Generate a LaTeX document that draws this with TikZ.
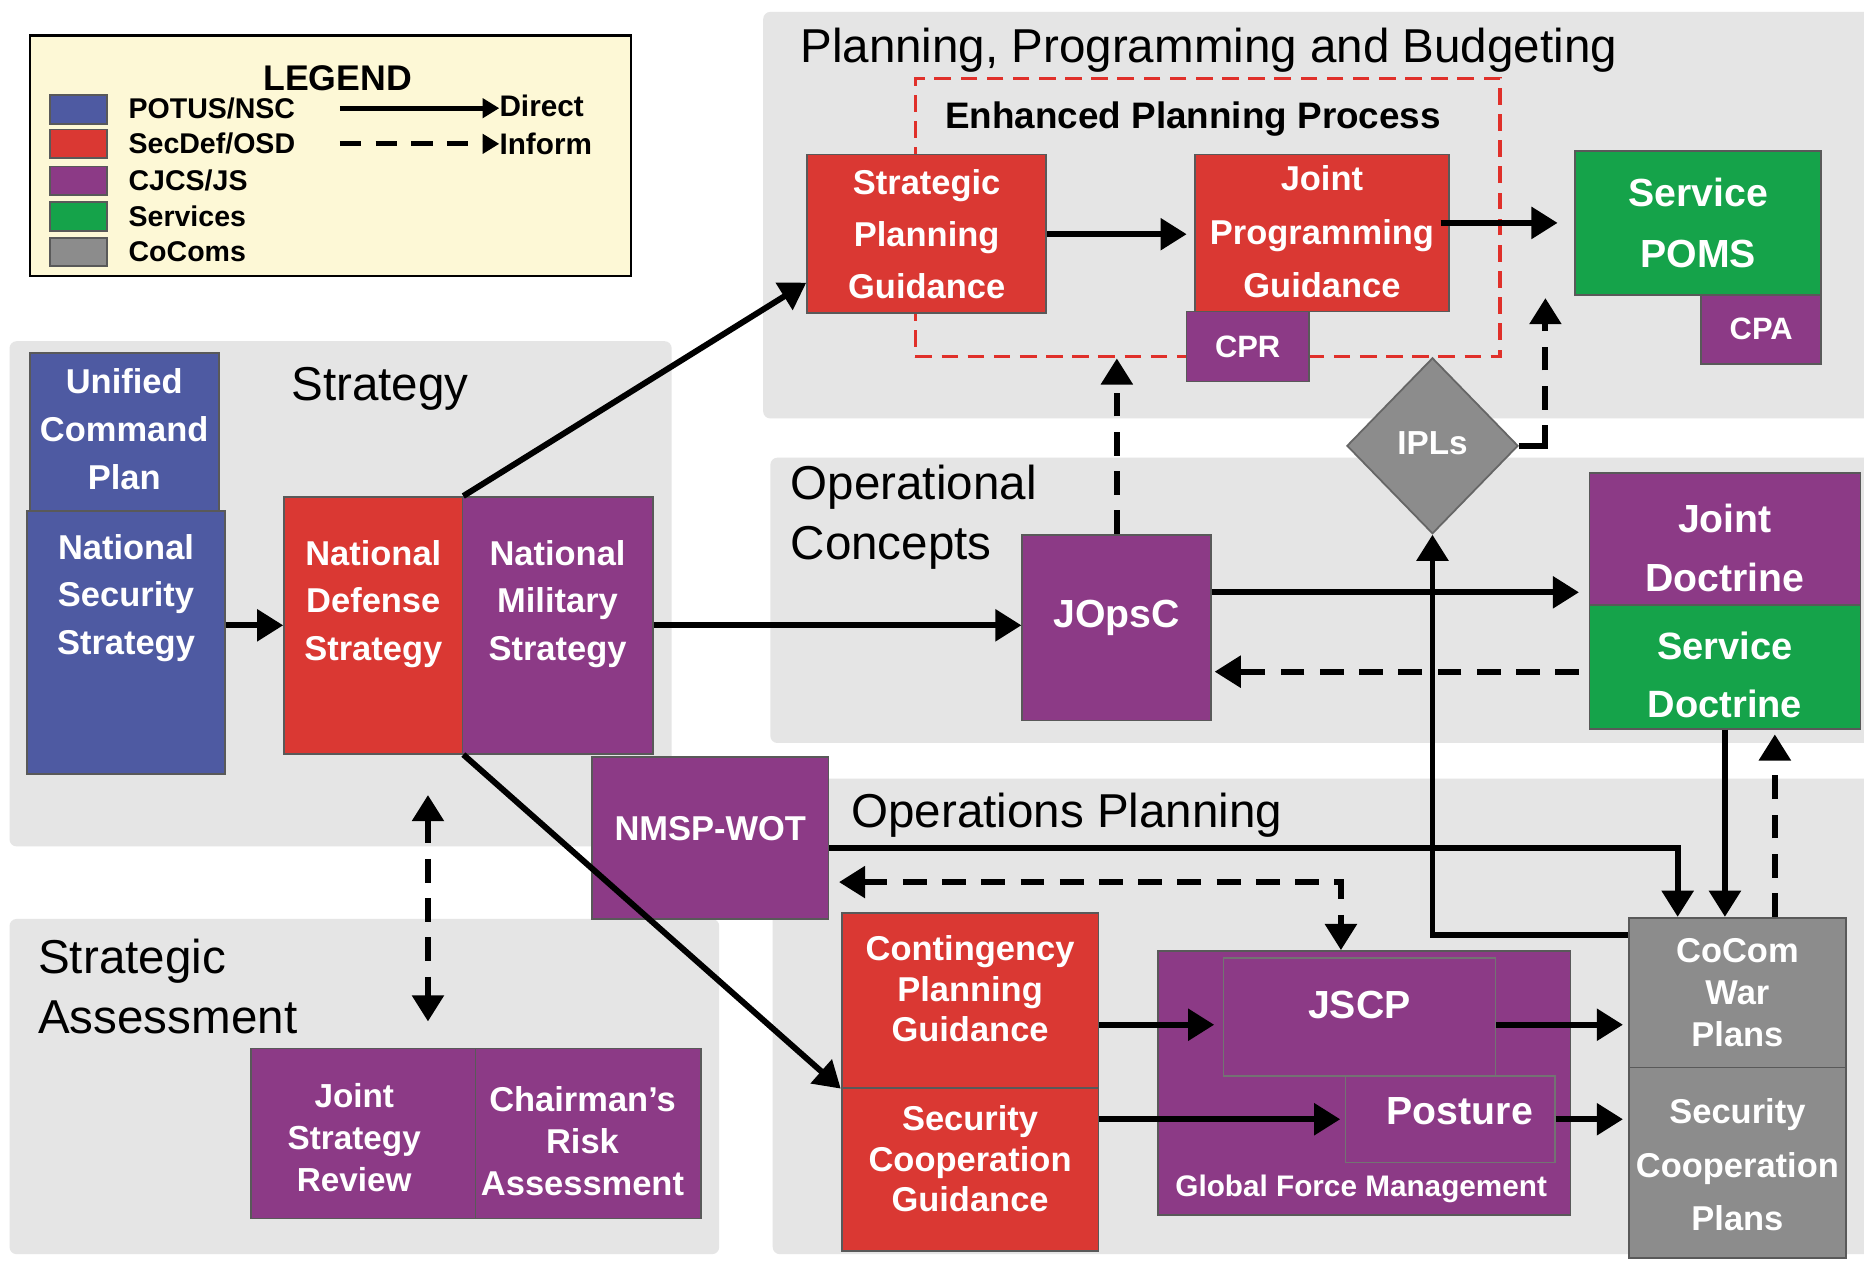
\documentclass[tikz,border=0pt]{standalone}
\usepackage{fontspec}
\setmainfont{Liberation Sans}
\usetikzlibrary{arrows.meta,shapes.geometric,calc}
\definecolor{cblue}{HTML}{4E5AA2}
\definecolor{cred}{HTML}{DA3833}
\definecolor{cpurple}{HTML}{8C3A86}
\definecolor{cgreen}{HTML}{15A34A}
\definecolor{cgray}{HTML}{8C8C8C}
\definecolor{cband}{HTML}{E5E5E5}
\definecolor{clegend}{HTML}{FDF8D6}
\definecolor{ceppred}{HTML}{E0302A}
\begin{document}
\begin{tikzpicture}[x=1pt,y=-1pt,
  band/.style={fill=cband, draw=none, rounded corners=6pt},
  box/.style={rectangle, draw=black!65, line width=1.5pt, inner sep=0pt},
  wt/.style={text=white, inner sep=0pt, align=center, font=\bfseries\fontsize{29}{40}\selectfont},
  big/.style={wt, font=\bfseries\fontsize{33}{50}\selectfont},
  ttl/.style={inner sep=0pt, anchor=west, align=left, font=\fontsize{40}{50}\selectfont},
  lgt/.style={inner sep=0pt, anchor=west, font=\bfseries\fontsize{24}{24}\selectfont},
  dir/.style={line width=5pt, -{Triangle[length=22pt,width=26pt]}},
  inf/.style={dir, dash pattern=on 20pt off 13pt},
  both/.style={line width=5pt, dash pattern=on 20pt off 13pt, {Triangle[length=22pt,width=26pt]}-{Triangle[length=22pt,width=26pt]}}
]
\useasboundingbox (0,0) rectangle (1568,1061);
\fill[white] (0,0) rectangle (1568,1061);

% bands
\fill[band] (642,10) rectangle (1575,352);
\fill[band] (8,287) rectangle (565,712);
\fill[band] (648,385) rectangle (1575,625);
\fill[band] (650,655) rectangle (1575,1055);
\fill[band] (8,773) rectangle (605,1055);

% legend
\node[rectangle, draw=black, line width=2pt, fill=clegend, minimum width=506pt, minimum height=202pt, inner sep=0pt] (legend) at (278,131) {};
\node[inner sep=0pt, font=\bfseries\fontsize{30}{30}\selectfont] (lgdt) at (284,66) {LEGEND};
\node[box, fill=cblue, minimum width=48pt, minimum height=24pt] (sw1) at (66,92) {};
\node[box, fill=cred, minimum width=48pt, minimum height=24pt] (sw2) at (66,121) {};
\node[box, fill=cpurple, minimum width=48pt, minimum height=24pt] (sw3) at (66,152) {};
\node[box, fill=cgreen, minimum width=48pt, minimum height=24pt] (sw4) at (66,182) {};
\node[box, fill=cgray, minimum width=48pt, minimum height=24pt] (sw5) at (66,212) {};
\node[lgt] (l1) at (108,91) {POTUS/NSC};
\node[lgt] (l2) at (108,121) {SecDef/OSD};
\node[lgt] (l3) at (108,152) {CJCS/JS};
\node[lgt] (l4) at (108,182) {Services};
\node[lgt] (l5) at (108,212) {CoComs};
\node[lgt, font=\bfseries\fontsize{25}{25}\selectfont] (ldir) at (420,89) {Direct};
\node[lgt, font=\bfseries\fontsize{25}{25}\selectfont] (linf) at (420,121) {Inform};
\coordinate (ld1) at (286,91);
\coordinate (ld2) at (286,121);
\draw[line width=4pt, -{Triangle[length=14pt,width=16pt]}] (ld1) -- (ldir.west |- ld1);
\draw[line width=4pt, dash pattern=on 18pt off 12pt, -{Triangle[length=14pt,width=16pt]}] (ld2) -- (linf.west |- ld2);

% titles
\node[ttl] (tppb) at (673,42) {Planning, Programming and Budgeting};
\node[ttl] (tstr) at (245,327) {Strategy};
\node[ttl] (topc) at (665,435) {Operational\\Concepts};
\node[ttl] (tops) at (716,686) {Operations Planning};
\node[ttl] (tsa) at (32,830) {Strategic\\Assessment};

% enhanced planning process box
\node[rectangle, draw=ceppred, line width=3pt, dash pattern=on 14pt off 8pt, minimum width=492pt, minimum height=234pt, inner sep=0pt] (epp) at (1016,183) {};
\node[inner sep=0pt, anchor=west, font=\bfseries\fontsize{31}{31}\selectfont] (eppt) at (795,100) {Enhanced Planning Process};

% PPB boxes
\node[box, fill=cred, minimum width=201pt, minimum height=133pt] (spg) at (779.5,196.5) {};
\node[wt, font=\bfseries\fontsize{29}{44}\selectfont] (spgt) at (779.5,197) {Strategic\\Planning\\Guidance};
\node[box, fill=cred, minimum width=214pt, minimum height=132pt] (jpg) at (1112,196) {};
\node[wt, font=\bfseries\fontsize{29}{45}\selectfont] (jpgt) at (1112,195) {Joint\\Programming\\Guidance};
\node[box, fill=cpurple, minimum width=103pt, minimum height=59pt] (cpr) at (1049.5,291.5) {};
\node[wt, font=\bfseries\fontsize{26}{26}\selectfont] (cprt) at (1049.5,292) {CPR};
\node[box, fill=cgreen, minimum width=207pt, minimum height=121pt] (poms) at (1428.5,187.5) {};
\node[big, font=\bfseries\fontsize{33}{51}\selectfont] (pomst) at (1428.5,187.5) {Service\\POMS};
\node[box, fill=cpurple, minimum width=101pt, minimum height=58pt] (cpa) at (1481.5,277) {};
\node[wt, font=\bfseries\fontsize{26}{26}\selectfont] (cpat) at (1481.5,277) {CPA};
\node[diamond, aspect=1, fill=cgray, draw=black!60, line width=1.5pt, minimum width=144pt, minimum height=148pt, inner sep=0pt] (ipl) at (1205,375) {};
\node[wt, font=\bfseries\fontsize{28}{28}\selectfont] (iplt) at (1205,373) {IPLs};

% strategy boxes
\node[box, fill=cblue, minimum width=159pt, minimum height=133pt] (ucp) at (104.5,363.5) {};
\node[wt] (ucpt) at (104.5,361) {Unified\\Command\\Plan};
\node[box, fill=cblue, minimum width=166pt, minimum height=221pt] (nss) at (106,540.5) {};
\node[wt] (nsst) at (106,503) {National\\Security\\Strategy};
\node[box, fill=cred, minimum width=150pt, minimum height=216pt] (nds) at (314,526) {};
\node[wt] (ndst) at (314,508) {National\\Defense\\Strategy};
\node[box, fill=cpurple, minimum width=160pt, minimum height=216pt] (nms) at (469,526) {};
\node[wt] (nmst) at (469,508) {National\\Military\\Strategy};
\node[box, fill=cpurple, minimum width=199pt, minimum height=136pt] (nmsp) at (597.5,705) {};
\node[wt] (nmspt) at (597.5,697) {NMSP-WOT};

% strategic assessment boxes
\node[box, fill=cpurple, minimum width=189pt, minimum height=143pt] (jsr) at (305.5,953.5) {};
\node[wt, font=\bfseries\fontsize{28}{35}\selectfont] (jsrt) at (298,957) {Joint\\Strategy\\Review};
\node[box, fill=cpurple, minimum width=190pt, minimum height=143pt] (cra) at (495,953.5) {};
\node[wt, font=\bfseries\fontsize{29}{35}\selectfont] (crat) at (490,960) {Chairman’s\\Risk\\Assessment};

% operational concepts boxes
\node[box, fill=cpurple, minimum width=159pt, minimum height=156pt] (jopsc) at (939.5,528) {};
\node[big] (jopsct) at (939.5,520) {JOpsC};
\node[box, fill=cpurple, minimum width=228pt, minimum height=111pt] (jd) at (1451,453.5) {};
\node[big] (jdt) at (1451,461) {Joint\\Doctrine};
\node[box, fill=cgreen, minimum width=228pt, minimum height=104pt] (sd) at (1451,561) {};
\node[big, font=\bfseries\fontsize{32}{49}\selectfont] (sdt) at (1451,568) {Service\\Doctrine};

% operations planning boxes
\node[box, fill=cred, minimum width=216pt, minimum height=147pt] (cpg) at (816,841.5) {};
\node[wt, font=\bfseries\fontsize{29}{34}\selectfont] (cpgt) at (816,832) {Contingency\\Planning\\Guidance};
\node[box, fill=cred, minimum width=216pt, minimum height=137pt] (scg) at (816,983.5) {};
\node[wt, font=\bfseries\fontsize{29}{34}\selectfont] (scgt) at (816,975) {Security\\Cooperation\\Guidance};
\node[box, fill=cpurple, minimum width=347pt, minimum height=222pt] (gfm) at (1147.5,911) {};
\node[wt, font=\bfseries\fontsize{25}{25}\selectfont] (gfmt) at (1145,1000) {Global Force Management};
\node[box, fill=cpurple, draw=black!55, line width=1.2pt, minimum width=229pt, minimum height=99pt] (jscp) at (1143.5,855.5) {};
\node[big] (jscpt) at (1143.5,845) {JSCP};
\node[box, fill=cpurple, draw=black!55, line width=1.2pt, minimum width=176pt, minimum height=73pt] (post) at (1220,941.5) {};
\node[big] (postt) at (1228,935) {Posture};
\node[box, fill=cgray, minimum width=183pt, minimum height=126pt] (cwp) at (1461.5,835) {};
\node[wt, font=\bfseries\fontsize{29}{35}\selectfont] (cwpt) at (1461.5,835) {CoCom\\War\\Plans};
\node[box, fill=cgray, minimum width=183pt, minimum height=160pt] (scp) at (1461.5,978) {};
\node[wt, font=\bfseries\fontsize{29}{45}\selectfont] (scpt) at (1461.5,980) {Security\\Cooperation\\Plans};

% connectors
\draw[dir] (nss.east |- nds.west) -- (nds.west);
\draw[dir] (nds.north east) -- ($(spg.south west)+(0,-26)$);
\draw[dir] (nms.east) -- (jopsc.west |- nms.east);
\draw[dir] (nds.south east) -- (cpg.south west);
\draw[dir, shorten >=6pt] (spg.east |- 0,197) -- (jpg.west |- 0,197);
\draw[dir, shorten >=14pt] ($(jpg.east |- poms.west)+(-8,0)$) -- (poms.west);
\coordinate (iplc) at (ipl.east -| 1300,0);
\draw[line width=5pt] (ipl.east) -- (iplc);
\draw[inf, shorten >=2pt] ($(iplc)+(0,2.5)$) -- (iplc |- poms.south);
\draw[inf] (jopsc.north) -- (jopsc.north |- epp.south);
\coordinate (jo1) at ($(jopsc.north east)+(0,49)$);
\draw[dir, shorten >=8pt] (jo1) -- (jd.west |- jo1);
\draw[inf, shorten >=2pt] ($(sd.west)+(-8,4)$) -- (jopsc.east |- 0,565);
\draw[dir] ($(cwp.north west)+(0,15)$) -| (ipl.south);
\draw[dir] ($(nmsp.east)+(0,8)$) -| ($(cwp.north west)+(42,0)$);
\draw[dir] (sd.south) -- (sd.south |- cwp.north);
\draw[inf, shorten >=4pt] ($(cwp.north)+(31.5,0)$) -- ($(sd.south)+(42,0)$);
\coordinate (el) at (1128,742);
\draw[both, shorten <=8pt] (nmsp.east |- el) -- (el) -- (el |- gfm.north);
\coordinate (cp1) at ($(cpg.east)+(0,20.5)$);
\draw[dir, shorten >=7pt] (cp1) -- (jscp.west |- cp1);
\draw[dir, shorten >=4pt] (jscp.east |- cp1) -- (cwp.west |- cp1);
\draw[dir, shorten >=4pt] (scg.east |- post.west) -- (post.west);
\draw[dir, shorten >=4pt] (post.east) -- (scp.west |- post.east);
\draw[both, shorten <=34pt, shorten >=22pt] ($(nds.south)+(46,0)$) -- ($(jsr.north)+(54.5,0)$);
\end{tikzpicture}
\end{document}
